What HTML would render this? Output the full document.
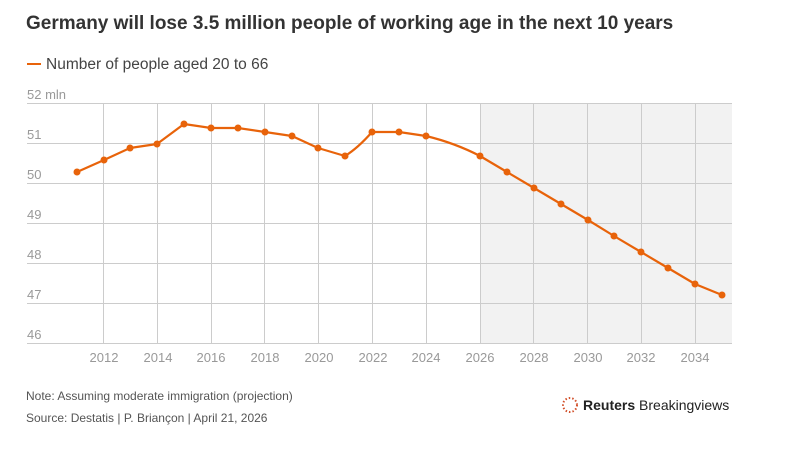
<!DOCTYPE html>
<html><head><meta charset="utf-8"><style>
body{margin:0;width:785px;height:450px;background:#fff;font-family:"Liberation Sans",sans-serif;overflow:hidden}
</style></head><body>
<svg width="785" height="450" xmlns="http://www.w3.org/2000/svg" font-family="Liberation Sans, sans-serif">
<text x="26" y="29" font-size="19" font-weight="bold" fill="#333">Germany will lose 3.5 million people of working age in the next 10 years</text>
<line x1="27" y1="64" x2="41" y2="64" stroke="#e8630a" stroke-width="2"/>
<text x="46" y="69" font-size="15.5" fill="#444">Number of people aged 20 to 66</text>
<rect x="480" y="103" width="252" height="240" fill="#f2f2f2"/>
<g stroke="#ccc" stroke-width="1">
<line x1="27" y1="103.5" x2="732" y2="103.5"/><line x1="27" y1="143.5" x2="732" y2="143.5"/>
<line x1="27" y1="183.5" x2="732" y2="183.5"/><line x1="27" y1="223.5" x2="732" y2="223.5"/>
<line x1="27" y1="263.5" x2="732" y2="263.5"/><line x1="27" y1="303.5" x2="732" y2="303.5"/>
<line x1="27" y1="343.5" x2="732" y2="343.5"/>
<line x1="103.5" y1="103" x2="103.5" y2="343"/><line x1="157.5" y1="103" x2="157.5" y2="343"/>
<line x1="211.5" y1="103" x2="211.5" y2="343"/><line x1="264.5" y1="103" x2="264.5" y2="343"/>
<line x1="318.5" y1="103" x2="318.5" y2="343"/><line x1="372.5" y1="103" x2="372.5" y2="343"/>
<line x1="426.5" y1="103" x2="426.5" y2="343"/><line x1="480.5" y1="103" x2="480.5" y2="343"/>
<line x1="533.5" y1="103" x2="533.5" y2="343"/><line x1="587.5" y1="103" x2="587.5" y2="343"/>
<line x1="641.5" y1="103" x2="641.5" y2="343"/><line x1="695.5" y1="103" x2="695.5" y2="343"/>
</g>
<g font-size="13" fill="#999">
<text x="27" y="99">52 mln</text><text x="27" y="139">51</text><text x="27" y="179">50</text>
<text x="27" y="219">49</text><text x="27" y="259">48</text><text x="27" y="299">47</text><text x="27" y="339">46</text>
</g>
<g font-size="13" fill="#999" text-anchor="middle">
<text x="104" y="362">2012</text><text x="158" y="362">2014</text><text x="211" y="362">2016</text>
<text x="265" y="362">2018</text><text x="319" y="362">2020</text><text x="373" y="362">2022</text>
<text x="426" y="362">2024</text><text x="480" y="362">2026</text><text x="534" y="362">2028</text>
<text x="588" y="362">2030</text><text x="641" y="362">2032</text><text x="695" y="362">2034</text>
</g>
<path d="M77,172 L104,160 L130,148 L157,144 L184,124 L211,128 L238,128 L265,132 L292,136 L318,148 L345,156 Q358,148 372,132 L399,132 L426,136 Q455,143 480,156 L507,172 L534,188 L561,204 L588,220 L614,236 L641,252 L668,268 L695,284 L722,295" fill="none" stroke="#e8630a" stroke-width="2.2" stroke-linejoin="round"/>
<g fill="#e8630a">
<circle cx="77" cy="172" r="3.5"/><circle cx="104" cy="160" r="3.5"/><circle cx="130" cy="148" r="3.5"/>
<circle cx="157" cy="144" r="3.5"/><circle cx="184" cy="124" r="3.5"/><circle cx="211" cy="128" r="3.5"/>
<circle cx="238" cy="128" r="3.5"/><circle cx="265" cy="132" r="3.5"/><circle cx="292" cy="136" r="3.5"/>
<circle cx="318" cy="148" r="3.5"/><circle cx="345" cy="156" r="3.5"/><circle cx="372" cy="132" r="3.5"/>
<circle cx="399" cy="132" r="3.5"/><circle cx="426" cy="136" r="3.5"/><circle cx="480" cy="156" r="3.5"/>
<circle cx="507" cy="172" r="3.5"/><circle cx="534" cy="188" r="3.5"/><circle cx="561" cy="204" r="3.5"/>
<circle cx="588" cy="220" r="3.5"/><circle cx="614" cy="236" r="3.5"/><circle cx="641" cy="252" r="3.5"/>
<circle cx="668" cy="268" r="3.5"/><circle cx="695" cy="284" r="3.5"/><circle cx="722" cy="295" r="3.5"/>
</g>
<text x="26" y="400" font-size="12" fill="#555">Note: Assuming moderate immigration (projection)</text>
<text x="26" y="422" font-size="12" fill="#555">Source: Destatis | P. Briançon | April 21, 2026</text>
<circle cx="570" cy="405" r="7" fill="none" stroke="#d2502a" stroke-width="2" stroke-dasharray="1.5 2"/>
<text x="583" y="410" font-size="14" fill="#222"><tspan font-weight="bold">Reuters</tspan> Breakingviews</text>
</svg>
</body></html>
